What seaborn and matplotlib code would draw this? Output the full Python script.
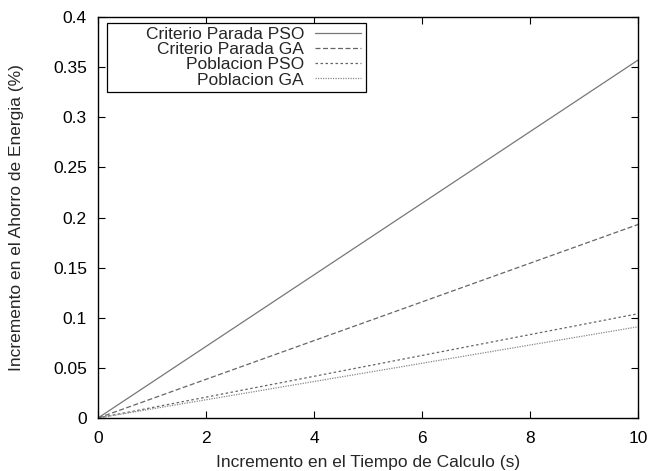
import matplotlib
matplotlib.use("Agg")
import matplotlib.pyplot as plt
from matplotlib.offsetbox import DrawingArea
import seaborn as sns
import pandas as pd

series_names = ["Criterio Parada PSO", "Criterio Parada GA", "Poblacion PSO", "Poblacion GA"]
x_values = [0, 10]
y_criterio_pso = [0.0, 0.357]
y_criterio_ga = [0.0, 0.193]
y_poblacion_pso = [0.0, 0.104]
y_poblacion_ga = [0.0, 0.091]
x_ticks = [0, 2, 4, 6, 8, 10]
y_ticks = [0, 0.05, 0.1, 0.15, 0.2, 0.25, 0.3, 0.35, 0.4]
y_tick_labels = ["0", "0.05", "0.1", "0.15", "0.2", "0.25", "0.3", "0.35", "0.4"]

sns.set_theme(style="ticks")
plt.rcParams['font.family'] = ['Liberation Sans', 'DejaVu Sans']

rows = []
for name, ys in zip(series_names, [y_criterio_pso, y_criterio_ga, y_poblacion_pso, y_poblacion_ga]):
    for xv, yv in zip(x_values, ys):
        rows.append({"x": xv, "y": yv, "serie": name})
df = pd.DataFrame(rows)

fig = plt.figure(figsize=(6.5, 4.71), dpi=100)
ax = fig.add_axes([0.1508, 0.1125, 0.8307, 0.8514])

styles = {
    "Criterio Parada PSO": dict(color="#777777", ls="-", lw=0.9),
    "Criterio Parada GA": dict(color="#666666", ls=(0, (4, 2)), lw=0.9),
    "Poblacion PSO": dict(color="#666666", ls=(0, (2, 2)), lw=0.9),
    "Poblacion GA": dict(color="#888888", ls=(0, (1, 1)), lw=0.9),
}
for name in series_names:
    sub = df[df["serie"] == name]
    st = styles[name]
    sns.lineplot(data=sub, x="x", y="y", ax=ax, label=name, color=st["color"],
                 linestyle=st["ls"], linewidth=st["lw"])

ax.set_xlim(0, 10)
ax.set_ylim(0, 0.4)
ax.set_xticks(x_ticks)
ax.set_yticks(y_ticks)
ax.set_yticklabels(y_tick_labels)
ax.tick_params(direction="in", top=True, right=True, length=5, width=0.8, labelsize=12.5, colors="black")
ax.tick_params(axis="x", pad=9)
ax.tick_params(axis="y", pad=8)
for s in ax.spines.values():
    s.set_linewidth(1.0)
    s.set_color("black")
ax.set_xlabel("Incremento en el Tiempo de Calculo (s)", fontsize=12.5, labelpad=7)
ax.set_ylabel("Incremento en el Ahorro de Energia (%)", fontsize=12.5, labelpad=21)

leg = ax.legend(loc="upper left", bbox_to_anchor=(0.0167, 0.986),
                markerfirst=False,
                fancybox=False, framealpha=1, edgecolor="black", fontsize=12.5,
                handlelength=2.7, borderpad=0.25, labelspacing=0.0, handletextpad=0.6,
                borderaxespad=0)
leg.get_frame().set_linewidth(0.9)
# widen the entry column so right-aligned entries leave space on the left, as in the reference
col = leg._legend_handle_box.get_children()[0]
col.get_children().append(DrawingArea(180, 0))

fig.savefig("out.png", dpi=100)
